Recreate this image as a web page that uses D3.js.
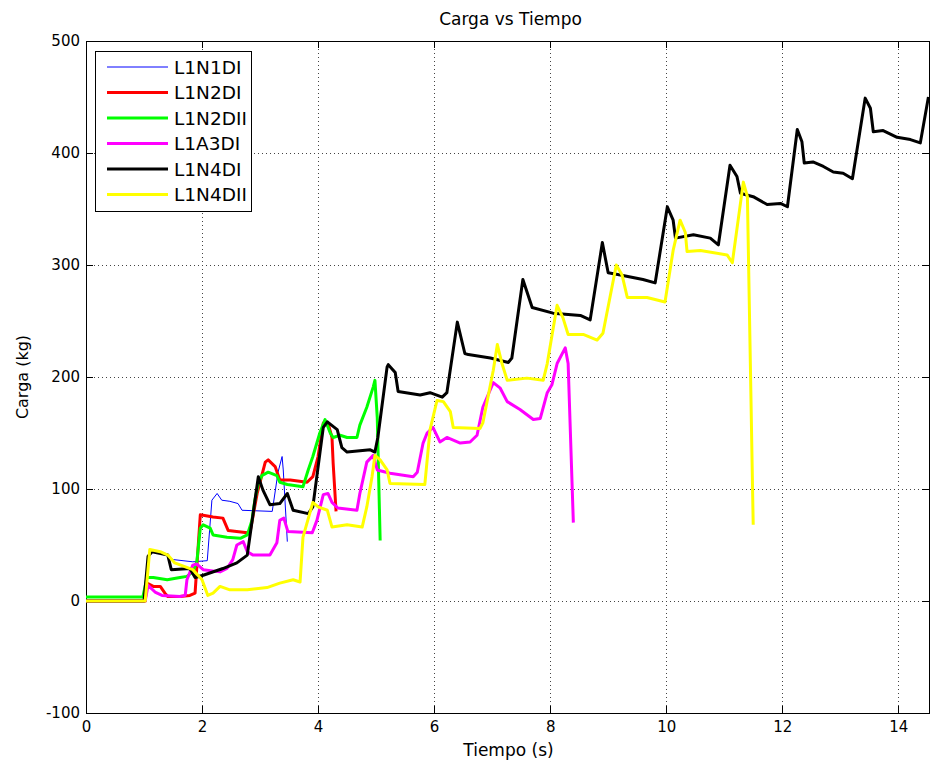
<!DOCTYPE html>
<html>
<head>
<meta charset="utf-8">
<script src="https://cdn.jsdelivr.net/npm/d3@7"></script>
<style>
  html, body { margin: 0; padding: 0; background: #fff; }
  svg { display: block; }
  text { font-family: "DejaVu Sans", "Liberation Sans", Arial, sans-serif; fill: #000; }
</style>
</head>
<body>
<svg id="chart" width="930" height="768"></svg>
<script>
// ---------- DATA ----------
const seriesNames = ["L1N1DI", "L1N2DI", "L1N2DII", "L1A3DI", "L1N4DI", "L1N4DII"];
const seriesColors = ["#0000ff", "#ff0000", "#00ff00", "#ff00ff", "#000000", "#ffff00"];

const xTicks = [0, 2, 4, 6, 8, 10, 12, 14];
const yTicks = [-100, 0, 100, 200, 300, 400, 500];

// L1N1DI
const t1 = [0, 1.02, 1.10, 1.28, 1.41, 1.50, 1.84, 2.09, 2.17, 2.26, 2.34, 2.48, 2.62, 2.69, 3.21, 3.31, 3.38, 3.40, 3.47];
const c1 = [0, 0, 45, 44, 40, 37, 35, 36, 90, 96, 90, 89, 87, 81, 80, 115, 129, 117, 53];

// L1N2DI
const t2 = [0, 1.02, 1.05, 1.16, 1.28, 1.36, 1.41, 1.62, 1.79, 1.88, 1.97, 2.19, 2.36, 2.45, 2.78, 2.83, 2.95, 3.09, 3.14, 3.26, 3.34, 3.52, 3.81, 3.91, 4.00, 4.09, 4.17, 4.24, 4.26, 4.31];
const c2 = [0, 0, 16, 13, 13, 7, 4, 4, 5, 7, 77, 75, 74, 63, 61, 62, 96, 124, 126, 120, 108, 108, 106, 111, 129, 159, 159, 146, 123, 80];

// L1N2DII
const t3 = [0, 0.98, 1.05, 1.16, 1.40, 1.62, 1.74, 1.84, 1.91, 1.97, 2.02, 2.14, 2.19, 2.43, 2.66, 2.78, 2.86, 2.91, 2.97, 3.03, 3.14, 3.29, 3.34, 3.47, 3.74, 3.83, 3.91, 4.03, 4.12, 4.21, 4.26, 4.38, 4.50, 4.67, 4.72, 4.84, 4.95, 4.98, 5.02, 5.07];
const c3 = [3.5, 3.5, 21, 21, 19, 21, 22, 26, 35, 65, 68, 65, 59, 57, 56, 59, 72, 90, 105, 112, 115, 112, 106, 104, 102, 117, 129, 150, 162, 150, 146, 148, 146, 146, 157, 173, 191, 197, 164, 54];

// L1A3DI
const t4 = [0, 1.02, 1.07, 1.19, 1.31, 1.62, 1.71, 1.74, 1.84, 1.91, 2.02, 2.31, 2.43, 2.53, 2.60, 2.71, 2.78, 2.88, 3.17, 3.29, 3.34, 3.41, 3.48, 3.90, 3.98, 4.09, 4.17, 4.24, 4.34, 4.67, 4.72, 4.84, 4.95, 5.02, 5.24, 5.64, 5.71, 5.81, 5.88, 5.98, 6.10, 6.22, 6.45, 6.62, 6.74, 6.84, 7.02, 7.14, 7.26, 7.48, 7.71, 7.83, 7.95, 8.03, 8.12, 8.26, 8.31, 8.40];
const c4 = [0, 0, 14, 8, 5, 4, 5, 19, 32, 33, 28, 26, 29, 37, 50, 53, 44, 41, 41, 52, 72, 74, 62, 61, 72, 95, 96, 88, 83, 81, 96, 124, 130, 117, 114, 111, 115, 141, 150, 155, 142, 146, 141, 142, 148, 173, 195, 190, 178, 171, 162, 163, 186, 193, 212, 226, 212, 70];

// L1N4DI
const t5 = [0, 1.00, 1.07, 1.14, 1.41, 1.47, 1.79, 1.88, 2.02, 2.36, 2.60, 2.78, 2.97, 3.05, 3.17, 3.34, 3.47, 3.57, 3.83, 3.91, 4.09, 4.16, 4.33, 4.41, 4.50, 4.90, 4.98, 5.03, 5.19, 5.21, 5.33, 5.38, 5.76, 5.93, 6.14, 6.22, 6.40, 6.53, 6.59, 6.97, 7.28, 7.34, 7.53, 7.69, 8.05, 8.52, 8.69, 8.90, 9.00, 9.21, 9.60, 9.81, 10.02, 10.12, 10.16, 10.47, 10.76, 10.90, 11.10, 11.22, 11.28, 11.50, 11.74, 11.97, 12.09, 12.26, 12.34, 12.38, 12.53, 12.71, 12.88, 13.05, 13.21, 13.43, 13.52, 13.57, 13.74, 13.98, 14.21, 14.38, 14.52];
const c5 = [0, 0, 40, 44, 41, 28, 29, 21, 23, 29, 34, 41, 111, 99, 86, 87, 96, 81, 78, 84, 155, 160, 153, 137, 133, 135, 133, 146, 209, 211, 204, 187, 184, 186, 182, 186, 249, 221, 220, 217, 213, 217, 287, 262, 257, 255, 251, 320, 293, 291, 287, 284, 352, 340, 324, 327, 324, 318, 389, 379, 364, 361, 354, 355, 352, 421, 410, 391, 392, 388, 383, 382, 377, 449, 440, 419, 420, 414, 412, 409, 450];

// L1N4DII
const t6 = [0, 1.02, 1.10, 1.28, 1.41, 1.53, 1.84, 2.00, 2.10, 2.19, 2.31, 2.48, 2.78, 3.12, 3.34, 3.57, 3.69, 3.74, 3.91, 4.00, 4.16, 4.24, 4.50, 4.76, 4.84, 4.93, 4.98, 5.07, 5.19, 5.24, 5.84, 5.93, 6.05, 6.16, 6.28, 6.33, 6.79, 6.84, 7.02, 7.09, 7.17, 7.26, 7.60, 7.88, 7.95, 8.12, 8.22, 8.31, 8.57, 8.81, 8.91, 9.14, 9.24, 9.33, 9.67, 9.98, 10.12, 10.24, 10.33, 10.36, 10.59, 11.05, 11.14, 11.33, 11.40, 11.50];
const c6 = [0, 0, 46, 44, 41, 34, 28, 19, 5, 7, 13, 10, 10, 12, 16, 19, 17, 57, 88, 84, 81, 66, 68, 66, 84, 111, 130, 126, 117, 105, 104, 153, 179, 178, 169, 155, 154, 159, 206, 229, 212, 197, 199, 197, 212, 264, 253, 238, 238, 233, 239, 300, 291, 271, 271, 267, 313, 340, 329, 312, 313, 309, 302, 374, 361, 68];

const seriesT = [t1, t2, t3, t4, t5, t6];
const seriesC = [c1, c2, c3, c4, c5, c6];
const seriesWidth = [1, 3, 3, 3, 3, 3];

// ---------- LAYOUT ----------
const mLeft = 86, mRight = 929, mTop = 41, mBottom = 713;
const svg = d3.select("#chart");

const x = d3.scaleLinear().domain([0, 14.53]).range([mLeft, mRight]);
const y = d3.scaleLinear().domain([-100, 500]).range([mBottom, mTop]);

// grid
const grid = svg.append("g");
grid.selectAll(".gx").data(xTicks.filter(d => d > 0)).enter().append("line")
  .attr("x1", d => x(d)).attr("x2", d => x(d)).attr("y1", mTop).attr("y2", mBottom)
  .attr("stroke", "#444").attr("stroke-width", 1).attr("stroke-dasharray", "1,3")
  .attr("shape-rendering", "crispEdges");
grid.selectAll(".gy").data(yTicks.filter(d => d > -100 && d < 500)).enter().append("line")
  .attr("x1", mLeft).attr("x2", mRight).attr("y1", d => y(d)).attr("y2", d => y(d))
  .attr("stroke", "#444").attr("stroke-width", 1).attr("stroke-dasharray", "1,3")
  .attr("shape-rendering", "crispEdges");

// axes (ticks inward)
const fmt = d => String(d);
const xAxisB = d3.axisBottom(x).tickValues(xTicks).tickSize(-7).tickPadding(8).tickFormat(fmt);
const xAxisT = d3.axisTop(x).tickValues(xTicks).tickSize(-7).tickFormat("");
const yAxisL = d3.axisLeft(y).tickValues(yTicks).tickSize(-7).tickPadding(6).tickFormat(fmt);
const yAxisR = d3.axisRight(y).tickValues(yTicks).tickSize(-7).tickFormat("");

function styleAxis(g) {
  g.selectAll("path").attr("stroke", "#000").attr("shape-rendering", "crispEdges");
  g.selectAll("line").attr("stroke", "#000").attr("shape-rendering", "crispEdges");
  g.selectAll("text").style("font-size", "15px").style("font-family", '"DejaVu Sans", sans-serif');
}
svg.append("g").attr("transform", `translate(0,${mBottom})`).call(xAxisB).call(styleAxis);
svg.append("g").attr("transform", `translate(0,${mTop})`).call(xAxisT).call(styleAxis);
svg.append("g").attr("transform", `translate(${mLeft},0)`).call(yAxisL).call(styleAxis);
svg.append("g").attr("transform", `translate(${mRight},0)`).call(yAxisR).call(styleAxis);

// clip
svg.append("clipPath").attr("id", "clip").append("rect")
  .attr("x", mLeft).attr("y", mTop).attr("width", mRight - mLeft).attr("height", mBottom - mTop);

// lines
const lineGen = d3.line().x(d => x(d[0])).y(d => y(d[1]));
const plot = svg.append("g").attr("clip-path", "url(#clip)");
seriesNames.forEach((name, i) => {
  const pts = seriesT[i].map((t, k) => [t, seriesC[i][k]]);
  plot.append("path").datum(pts)
    .attr("d", lineGen)
    .attr("fill", "none")
    .attr("stroke", seriesColors[i])
    .attr("stroke-width", seriesWidth[i])
    .attr("stroke-linejoin", "round");
});

// title and labels
svg.append("text").attr("x", (mLeft + mRight) / 2 + 3).attr("y", 25)
  .attr("text-anchor", "middle").style("font-size", "17px").text("Carga vs Tiempo");
svg.append("text").attr("x", (mLeft + mRight) / 2 + 1).attr("y", 756)
  .attr("text-anchor", "middle").style("font-size", "17px").text("Tiempo (s)");
svg.append("text").attr("transform", `translate(28,${(mTop + mBottom) / 2}) rotate(-90)`)
  .attr("text-anchor", "middle").style("font-size", "16px").text("Carga (kg)");

// legend
const lg = svg.append("g");
lg.append("rect").attr("x", 95.5).attr("y", 51.5).attr("width", 156).attr("height", 160)
  .attr("fill", "#fff").attr("stroke", "#000").attr("stroke-width", 1);
seriesNames.forEach((name, i) => {
  const yy = 67 + i * 25.5;
  lg.append("line").attr("x1", 107).attr("x2", 168).attr("y1", yy).attr("y2", yy)
    .attr("stroke", seriesColors[i]).attr("stroke-width", seriesWidth[i]);
  lg.append("text").attr("x", 174).attr("y", yy + 6.5).style("font-size", "18.5px").text(name);
});
</script>
</body>
</html>
